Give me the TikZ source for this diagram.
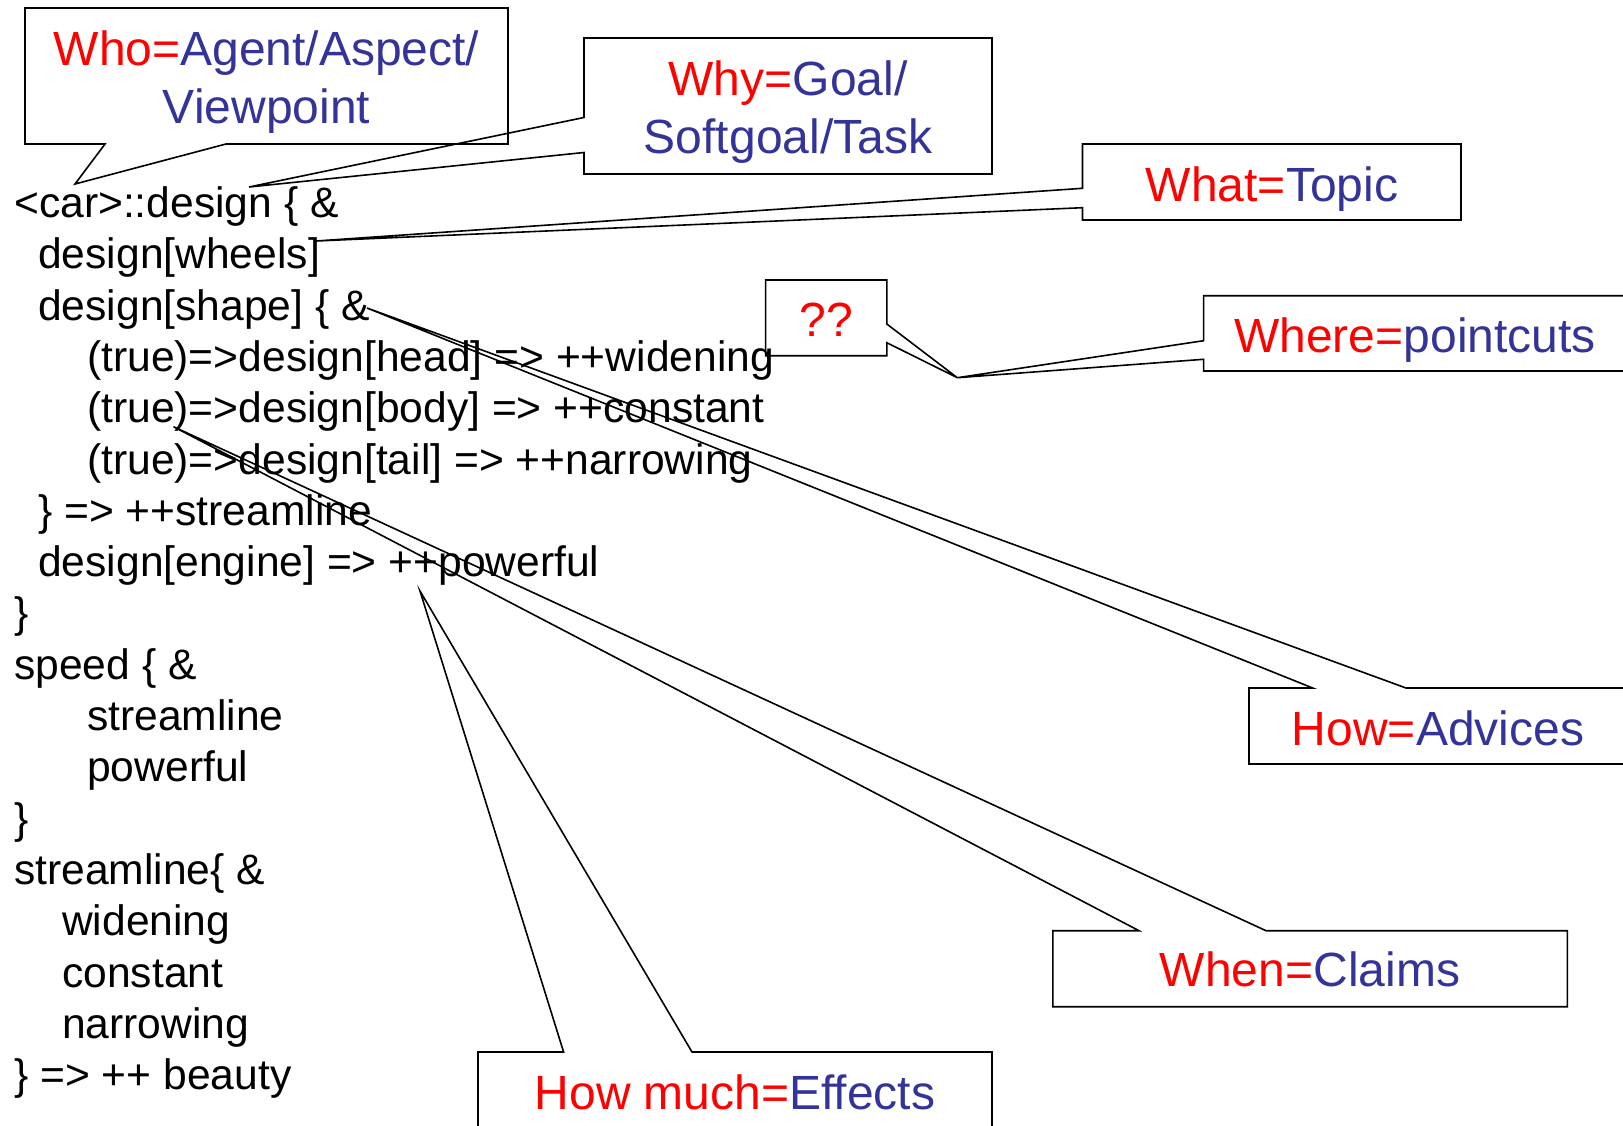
\documentclass[tikz,border=0pt]{standalone}
\usepackage{fontspec}
\setmainfont{Liberation Sans}
\definecolor{qred}{RGB}{255,0,0}
\definecolor{qblue}{RGB}{51,51,153}
\newcommand{\codefnt}{\fontsize{42.6}{51}\selectfont}
\newcommand{\labfnt}{\fontsize{48}{58}\selectfont}
\newcommand{\redq}[1]{\textcolor{qred}{#1}}
\newcommand{\blueq}[1]{\textcolor{qblue}{#1}}
\begin{document}
\begin{tikzpicture}[x=1pt,y=-1pt,
  callout/.style={draw=black, line width=1.6pt, line join=miter},
  code/.style={font=\codefnt, anchor=base west, inner sep=0pt, text=black},
  lab/.style={font=\labfnt, anchor=base, inner sep=0pt}]
\useasboundingbox (0,0) rectangle (1623,1125);
\fill[white] (0,0) rectangle (1623,1125);
\clip (0,0) rectangle (1623,1125);

% code lines
\node[code] (c0) at (14,217.5) {<car>::design \{ \&};
\node[code] (c1) at (38,268.8) {design[wheels]};
\node[code] (c2) at (38,320.1) {design[shape] \{ \&};
\node[code] (c3) at (87,371.4) {(true)=>design[head] => ++widening};
\node[code] (c4) at (87,422.7) {(true)=>design[body] => ++constant};
\node[code] (c5) at (87,474.0) {(true)=>design[tail] => ++narrowing};
\node[code] (c6) at (38,525.3) {\} => ++streamline};
\node[code] (c7) at (38,576.6) {design[engine] => ++powerful};
\node[code] (c8) at (14,627.9) {\}};
\node[code] (c9) at (14,679.2) {speed \{ \&};
\node[code] (c10) at (87,730.5) {streamline};
\node[code] (c11) at (87,781.8) {powerful};
\node[code] (c12) at (14,833.1) {\}};
\node[code] (c13) at (14,884.4) {streamline\{ \&};
\node[code] (c14) at (62,935.7) {widening};
\node[code] (c15) at (62,987.0) {constant};
\node[code] (c16) at (62,1038.3) {narrowing};
\node[code] (c17) at (14,1089.6) {\} => ++ beauty};

% tips
\coordinate (whotip) at (75,184);
\coordinate (whytip) at (249,187);
\coordinate (whattip) at (316,241);
\coordinate (qtip) at (957.3,377.7);
\coordinate (howtip) at (367,308);
\coordinate (whentip) at (173.5,426.7);
\coordinate (muchtip) at (420,591);

% callouts
\draw[callout] (25,8) -- (508,8) -- (508,144) -- (226,144) -- (whotip) -- (105,144) -- (25,144) -- cycle;
\draw[callout] (584,38) -- (992,38) -- (992,174) -- (584,174) -- (584,152.5) -- (whytip) -- (584,117.5) -- cycle;
\draw[callout] (1082.5,144) -- (1461,144) -- (1461,220) -- (1082.5,220) -- (1082.5,207.7) -- (whattip) -- (1082.5,188.3) -- cycle;
\draw[callout] (765.6,280) -- (886.8,280) -- (886.8,324) -- (qtip) -- (886.8,342.7) -- (886.8,355.7) -- (765.6,355.7) -- cycle;
\draw[callout] (1203.6,295.7) -- (1640,295.7) -- (1640,371) -- (1203.6,371) -- (1203.6,359.3) -- (qtip) -- (1203.6,340.7) -- cycle;
\draw[callout] (1249,688) -- (1312.7,688) -- (howtip) -- (1406,688) -- (1640,688) -- (1640,764) -- (1249,764) -- cycle;
\draw[callout] (1052.8,930.7) -- (1139,930.7) -- (whentip) -- (1266,930.7) -- (1567.3,930.7) -- (1567.3,1006.7) -- (1052.8,1006.7) -- cycle;
\draw[callout] (478,1052) -- (563.6,1052) -- (muchtip) -- (692,1052) -- (992,1052) -- (992,1140) -- (478,1140) -- cycle;

% labels
\node[lab] (who1) at (266.5,65) {\redq{Who=}\blueq{Agent/Aspect/}};
\node[lab] (who2) at (266.5,123) {\blueq{Viewpoint}};
\node[lab] (why1) at (788,95) {\redq{Why=}\blueq{Goal/}};
\node[lab] (why2) at (788,153) {\blueq{Softgoal/Task}};
\node[lab] (what) at (1272,201.7) {\redq{What=}\blueq{Topic}};
\node[lab] (qq) at (826,336.7) {\redq{??}};
\node[lab] (where) at (1415,352) {\redq{Where=}\blueq{pointcuts}};
\node[lab] (how) at (1438,745) {\redq{How=}\blueq{Advices}};
\node[lab] (when) at (1310,986.7) {\redq{When=}\blueq{Claims}};
\node[lab] (much) at (735,1109) {\redq{How much=}\blueq{Effects}};
\end{tikzpicture}
\end{document}
